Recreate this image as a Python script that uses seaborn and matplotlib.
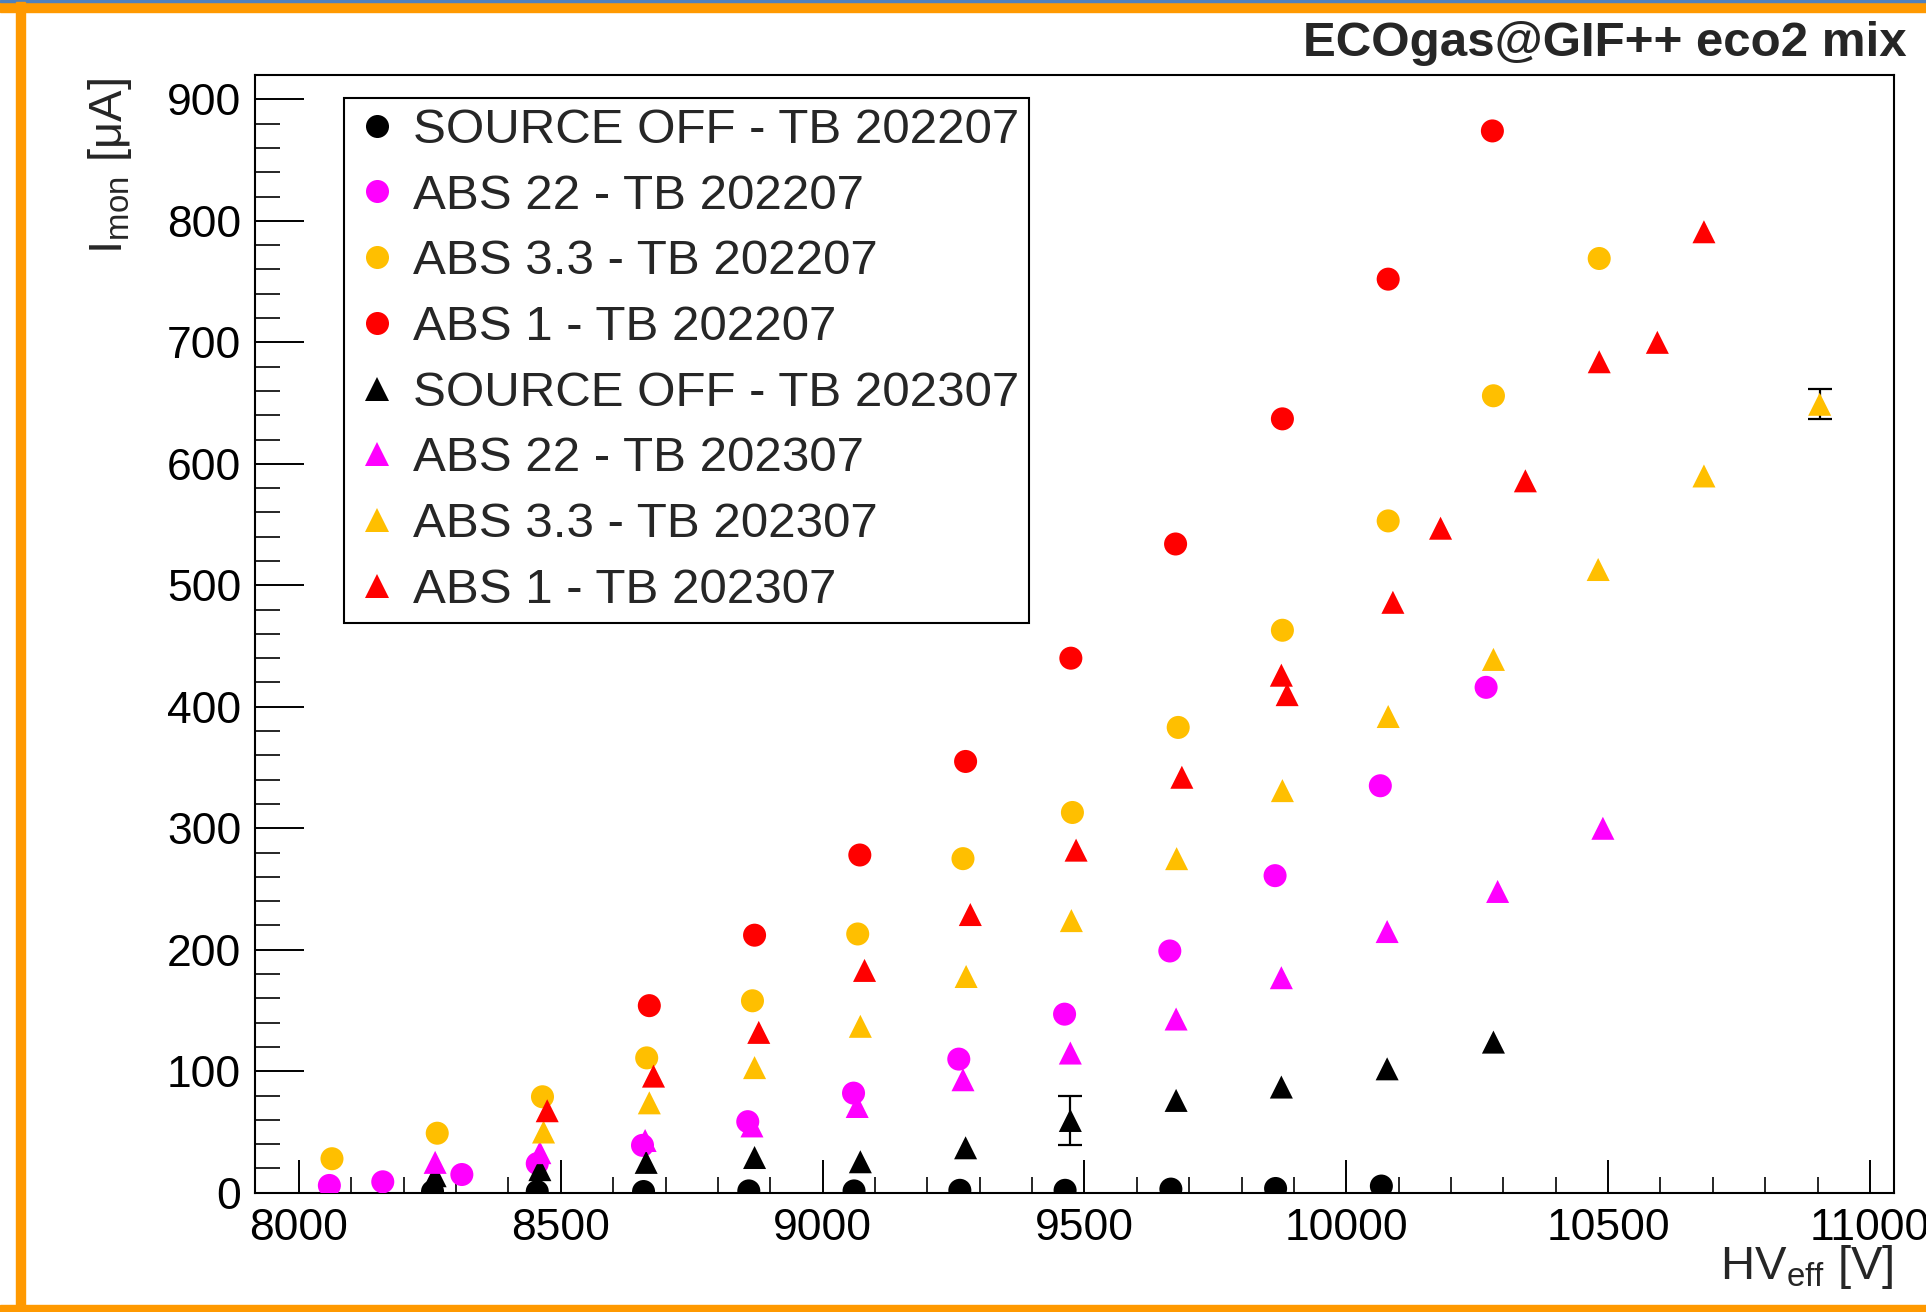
import numpy as np
import pandas as pd
import matplotlib
matplotlib.use("Agg")
import matplotlib.pyplot as plt
from matplotlib.patches import Rectangle
from matplotlib.ticker import MultipleLocator
import seaborn as sns

# TB 202207 (circles)
hv_off_22 = [8255, 8455, 8658, 8859, 9060, 9262, 9463, 9665, 9865, 10067]
i_off_22 = [1, 1, 1, 1.5, 1.5, 2, 2, 3, 3.5, 5.5]

hv_abs22_22 = [8058, 8160, 8311, 8455, 8656, 8857, 9059, 9260, 9462, 9663, 9864, 10065, 10267]
i_abs22_22 = [6, 9, 15, 24, 39, 58.5, 82, 110, 147, 199, 261, 335, 416]

hv_abs33_22 = [8063, 8264, 8465, 8664, 8866, 9067, 9268, 9477, 9679, 9878, 10080, 10281, 10483]
i_abs33_22 = [28, 49, 79, 111, 158, 213, 275, 313, 383, 463, 553, 656, 769]

hv_abs1_22 = [8669, 8870, 9071, 9273, 9474, 9674, 9878, 10080, 10279]
i_abs1_22 = [154, 212, 278, 355, 440, 534, 637, 752, 874]

# TB 202307 (triangles)
hv_off_23 = [8260, 8460, 8663, 8870, 9072, 9273, 9473, 9675, 9876, 10078, 10281]
i_off_23 = [14, 19, 25, 29, 25.5, 37, 59.5, 76, 87, 102, 124]
err_off_23 = [0, 0, 0, 0, 0, 0, 20, 0, 0, 0, 0]

hv_abs22_23 = [8260, 8460, 8661, 8865, 9066, 9268, 9473, 9675, 9876, 10078, 10289, 10490]
i_abs22_23 = [25, 33, 43, 55, 71, 93, 115, 143, 177, 215, 248, 300]

hv_abs33_23 = [8467, 8669, 8870, 9072, 9274, 9475, 9676, 9878, 10080, 10281, 10481, 10683, 10904]
i_abs33_23 = [50, 74, 103, 137, 178, 224, 275, 331, 392, 439, 513, 590, 649]
err_abs33_23 = [0, 0, 0, 0, 0, 0, 0, 0, 0, 0, 0, 0, 12.5]

hv_abs1_23 = [8474, 8677, 8878, 9080, 9282, 9484, 9686, 9876, 9887, 10089, 10180, 10342, 10483, 10594, 10683]
i_abs1_23 = [67.5, 96, 132, 183, 229, 282, 342, 426, 410, 486, 547, 586, 684, 700, 791]

labels = ["SOURCE OFF - TB 202207", "ABS 22 - TB 202207", "ABS 3.3 - TB 202207", "ABS 1 - TB 202207",
          "SOURCE OFF - TB 202307", "ABS 22 - TB 202307", "ABS 3.3 - TB 202307", "ABS 1 - TB 202307"]
colors = ["black", "#ff00ff", "#ffbf00", "#ff0000"] * 2
markers = ["o"] * 4 + ["^"] * 4


def main():
    series = [
        (hv_off_22, i_off_22, None),
        (hv_abs22_22, i_abs22_22, None),
        (hv_abs33_22, i_abs33_22, None),
        (hv_abs1_22, i_abs1_22, None),
        (hv_off_23, i_off_23, err_off_23),
        (hv_abs22_23, i_abs22_23, None),
        (hv_abs33_23, i_abs33_23, err_abs33_23),
        (hv_abs1_23, i_abs1_23, None),
    ]
    frames = []
    for lab, (hv, cur, err) in zip(labels, series):
        if err is None:
            err = [0] * len(hv)
        frames.append(pd.DataFrame({"label": lab, "hv": hv, "imon": cur, "err": err}))
    df = pd.concat(frames, ignore_index=True)

    sns.set_theme(style="white")
    plt.rcParams["font.family"] = ["Liberation Sans", "DejaVu Sans"]
    plt.rcParams["mathtext.default"] = "regular"

    fig = plt.figure(figsize=(19.26, 13.12), dpi=100)
    ax = fig.add_axes([0.1324, 0.0909, 0.851, 0.8519])

    # error bars (only a couple are larger than the markers)
    df_err = df[df["err"] > 0]
    ax.errorbar(df_err["hv"], df_err["imon"], yerr=df_err["err"], fmt="none",
                ecolor="black", elinewidth=1.6, capsize=8.5, capthick=1.6, zorder=1)

    pal = dict(zip(labels, colors))
    mk = dict(zip(labels, markers))
    sns.scatterplot(data=df, x="hv", y="imon", hue="label", style="label",
                    hue_order=labels, style_order=labels, palette=pal, markers=mk,
                    s=275, linewidth=0, ax=ax, zorder=3, legend=True)

    ax.set_xlim(7916, 11046)
    ax.set_ylim(0, 920)
    ax.xaxis.set_major_locator(MultipleLocator(500))
    ax.xaxis.set_minor_locator(MultipleLocator(100))
    ax.yaxis.set_major_locator(MultipleLocator(100))
    ax.yaxis.set_minor_locator(MultipleLocator(20))

    ax.tick_params(axis="x", which="major", direction="in", length=23.5, width=1.4,
                   labelsize=32, pad=11, bottom=True, top=False, colors="black")
    ax.tick_params(axis="x", which="minor", direction="in", length=11.5, width=1.4,
                   bottom=True, top=False)
    ax.tick_params(axis="y", which="major", direction="in", length=35, width=1.4,
                   labelsize=32, pad=10, left=True, right=False, colors="black")
    ax.tick_params(axis="y", which="minor", direction="in", length=18, width=1.4,
                   left=True, right=False)
    for sp in ax.spines.values():
        sp.set_color("black")
        sp.set_linewidth(1.5)

    ax.set_xlabel(r"HV$_{\mathregular{eff}}$ [V]", fontsize=34, loc="right")
    ax.xaxis.set_label_coords(1.0, -0.045)
    ax.set_ylabel(r"I$_{\mathregular{mon}}$ [μA]", fontsize=34, loc="top")
    ax.yaxis.set_label_coords(-0.074, 0.997)

    handles, labs = ax.get_legend_handles_labels()
    keep = [(h, l) for h, l in zip(handles, labs) if l in labels]
    leg = ax.legend([h for h, l in keep], [l for h, l in keep],
                    loc="upper left", bbox_to_anchor=(0.0543, 0.9794),
                    borderaxespad=0, frameon=True, fancybox=False, edgecolor="black",
                    framealpha=1, fontsize=35.5, handlelength=0.93, handletextpad=0.26,
                    borderpad=0.2, labelspacing=0.42, markerscale=1.0)
    leg.get_frame().set_linewidth(1.5)

    fig.text(0.990, 0.967, "ECOgas@GIF++ eco2 mix", ha="right", va="center",
             fontsize=35.5, fontweight="bold")

    # orange canvas frame
    orange = "#ff9900"
    fig.patches.append(Rectangle((0, 1 - 12 / 1312), 1, 10 / 1312, transform=fig.transFigure,
                                 color=orange, zorder=0))
    fig.patches.append(Rectangle((0, 1 - 2 / 1312), 1, 2 / 1312, transform=fig.transFigure,
                                 color="#4f81bd", zorder=0))
    fig.patches.append(Rectangle((16 / 1926, 0), 9 / 1926, 1 - 2 / 1312, transform=fig.transFigure,
                                 color=orange, zorder=0))
    fig.patches.append(Rectangle((0, 0), 1, 7 / 1312, transform=fig.transFigure,
                                 color=orange, zorder=0))

    fig.savefig("out.png", dpi=100)
    plt.close(fig)


if __name__ == "__main__":
    main()
